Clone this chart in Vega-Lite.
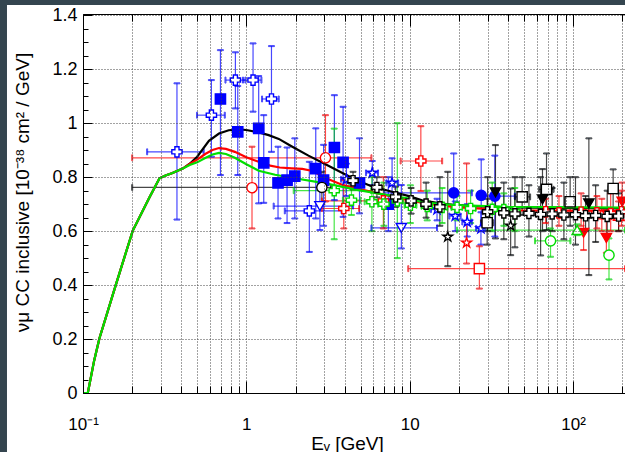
{
  "$schema": "https://vega.github.io/schema/vega-lite/v6.json",
  "width": 542,
  "height": 379,
  "autosize": {"type": "none"},
  "padding": {"left": 83, "top": 14, "right": 0, "bottom": 59},
  "background": "#34454f",
  "config": {"view": {"stroke": null}, "font": "Liberation Sans"},
  "datasets": {
    "pts": [
      {"s":"bsq","E":0.694,"v":1.09,"yl":0.808,"yh":1.271},
      {"s":"bsq","E":0.886,"v":0.968,"yl":0.808,"yh":1.138},
      {"s":"bsq","E":1.19,"v":0.981,"yl":0.703,"yh":1.175},
      {"s":"bsq","E":1.278,"v":0.853,"yl":0.705,"yh":1.03},
      {"s":"bsq","E":1.563,"v":0.779,"yl":0.647,"yh":0.913},
      {"s":"bsq","E":1.775,"v":0.789,"yl":0.63,"yh":0.91},
      {"s":"bsq","E":1.98,"v":0.804,"yl":0.647,"yh":0.944},
      {"s":"bsq","E":2.66,"v":0.832,"yl":0.647,"yh":0.981},
      {"s":"bsq","E":2.97,"v":0.789,"yl":0.62,"yh":0.92},
      {"s":"bsq","E":3.46,"v":0.91,"yl":0.715,"yh":1.104},
      {"s":"bsq","E":3.91,"v":0.855,"yl":0.653,"yh":1.061},
      {"s":"bsq","E":4.93,"v":0.779,"yl":0.666,"yh":0.944},
      {"s":"bsq","E":7.4,"v":0.7,"yl":0.6,"yh":0.8},
      {"s":"bcr","E":0.376,"v":0.894,"xl":0.247,"xh":0.548,"yl":0.643,"yh":1.148},
      {"s":"bcr","E":0.611,"v":1.03,"xl":0.499,"xh":0.738,"yl":0.876,"yh":1.16},
      {"s":"bcr","E":0.857,"v":1.16,"xl":0.745,"xh":0.987,"yl":1.055,"yh":1.263},
      {"s":"bcr","E":1.099,"v":1.16,"xl":0.954,"xh":1.237,"yl":1.043,"yh":1.296},
      {"s":"bcr","E":1.425,"v":1.09,"xl":1.248,"xh":1.578,"yl":0.894,"yh":1.286},
      {"s":"bcr","E":2.43,"v":0.675,"xl":1.72,"xh":3.83,"yl":0.523,"yh":0.857},
      {"s":"bst","E":4.1,"v":0.792,"xl":3.8,"xh":4.4,"yl":0.73,"yh":0.85},
      {"s":"bst","E":5.9,"v":0.816,"xl":5.4,"xh":6.4,"yl":0.77,"yh":0.86},
      {"s":"bst","E":7.8,"v":0.779,"xl":7.2,"xh":8.5,"yl":0.7,"yh":0.87},
      {"s":"bst","E":14.7,"v":0.68,"xl":13.5,"xh":16,"yl":0.64,"yh":0.72},
      {"s":"bst","E":19.0,"v":0.656,"xl":17.5,"xh":20.5,"yl":0.6,"yh":0.71},
      {"s":"bst","E":22.5,"v":0.634,"xl":21,"xh":24,"yl":0.58,"yh":0.7},
      {"s":"bst","E":27.3,"v":0.61,"xl":25.5,"xh":29,"yl":0.55,"yh":0.67},
      {"s":"bci","E":18.6,"v":0.742,"xl":7,"xh":24,"yl":0.685,"yh":0.888},
      {"s":"bci","E":27.4,"v":0.733,"yl":0.6,"yh":0.866},
      {"s":"bci","E":33.2,"v":0.73,"xl":26,"xh":44,"yl":0.58,"yh":0.88},
      {"s":"btd","E":2.82,"v":0.693,"xl":1.47,"xh":4.5,"yl":0.604,"yh":0.78},
      {"s":"btd","E":8.89,"v":0.612,"xl":5.83,"xh":14.7,"yl":0.536,"yh":0.771},
      {"s":"rci","E":1.083,"v":0.761,"yl":0.61,"yh":0.913},
      {"s":"rci","E":3.05,"v":0.872,"xl":0.2,"xh":5.83,"yl":0.71,"yh":1.03},
      {"s":"rcr","E":11.7,"v":0.86,"xl":8.8,"xh":15.8,"yl":0.749,"yh":0.989},
      {"s":"rcr","E":3.95,"v":0.684,"xl":2.9,"xh":4.9,"yl":0.61,"yh":0.79},
      {"s":"rcr","E":6.9,"v":0.712,"xl":2.9,"xh":10,"yl":0.61,"yh":0.8},
      {"s":"rcr","E":68,"v":0.672,"yl":0.63,"yh":0.72},
      {"s":"rcr","E":82,"v":0.668,"yl":0.62,"yh":0.73},
      {"s":"rcr","E":112,"v":0.67,"yl":0.62,"yh":0.74},
      {"s":"rcr","E":140,"v":0.668,"yl":0.61,"yh":0.73},
      {"s":"rcr","E":170,"v":0.665,"yl":0.6,"yh":0.74},
      {"s":"rcr","E":198,"v":0.672,"yl":0.62,"yh":0.75},
      {"s":"rsq","E":26.7,"v":0.461,"xl":9.8,"xh":208,"yl":0.387,"yh":0.544},
      {"s":"rtdf","E":116,"v":0.594,"yl":0.53,"yh":0.683},
      {"s":"rtdf","E":160,"v":0.575,"yl":0.52,"yh":0.68},
      {"s":"rtdf","E":200,"v":0.709,"yl":0.64,"yh":0.78},
      {"s":"rst","E":22.3,"v":0.557,"yl":0.48,"yh":0.851},
      {"s":"rtu","E":150,"v":0.662,"yl":0.6,"yh":0.72},
      {"s":"rtu","E":190,"v":0.657,"yl":0.6,"yh":0.71},
      {"s":"gcr","E":3.45,"v":0.75,"xl":1.95,"xh":5.8,"yl":0.57,"yh":0.98},
      {"s":"gcr","E":4.4,"v":0.715,"xl":3.9,"xh":5.0,"yl":0.66,"yh":0.77},
      {"s":"gcr","E":5.87,"v":0.709,"xl":5.3,"xh":6.4,"yl":0.6,"yh":0.8},
      {"s":"gcr","E":6.95,"v":0.7,"xl":6.4,"xh":7.6,"yl":0.62,"yh":0.78},
      {"s":"gcr","E":8.4,"v":0.712,"xl":7.7,"xh":9.1,"yl":0.5,"yh":1.0},
      {"s":"gcr","E":10.1,"v":0.696,"xl":9.3,"xh":11,"yl":0.63,"yh":0.77},
      {"s":"gcr","E":12.8,"v":0.692,"xl":11.8,"xh":13.8,"yl":0.64,"yh":0.75},
      {"s":"gcr","E":15.8,"v":0.688,"xl":14.6,"xh":17,"yl":0.63,"yh":0.76},
      {"s":"gcr","E":19.5,"v":0.688,"xl":18,"xh":21,"yl":0.64,"yh":0.73},
      {"s":"gcr","E":23.6,"v":0.684,"xl":22,"xh":25.3,"yl":0.63,"yh":0.75},
      {"s":"gcr","E":32,"v":0.681,"xl":30,"xh":34,"yl":0.6,"yh":0.78},
      {"s":"gcr","E":37.7,"v":0.68,"xl":35.5,"xh":40,"yl":0.62,"yh":0.74},
      {"s":"gcr","E":44,"v":0.672,"xl":41.5,"xh":46.5,"yl":0.6,"yh":0.76},
      {"s":"gci","E":72.8,"v":0.564,"xl":58.5,"xh":96.3,"yl":0.505,"yh":0.61},
      {"s":"gci","E":166,"v":0.511,"yl":0.421,"yh":0.573},
      {"s":"gtu","E":106,"v":0.604,"xl":19.5,"xh":208,"yl":0.585,"yh":0.625},
      {"s":"kcr","E":4.5,"v":0.787,"xl":4.2,"xh":4.85,"yl":0.755,"yh":0.82},
      {"s":"kcr","E":6.3,"v":0.762,"xl":5.9,"xh":6.7,"yl":0.725,"yh":0.8},
      {"s":"kcr","E":8.2,"v":0.727,"xl":7.7,"xh":8.8,"yl":0.69,"yh":0.765},
      {"s":"kcr","E":10.2,"v":0.712,"xl":9.6,"xh":10.9,"yl":0.665,"yh":0.76},
      {"s":"kcr","E":12.6,"v":0.7,"xl":11.8,"xh":13.4,"yl":0.65,"yh":0.78},
      {"s":"kcr","E":15.3,"v":0.69,"xl":14.3,"xh":16.3,"yl":0.62,"yh":0.8},
      {"s":"kcr","E":30,"v":0.672,"xl":28,"xh":32,"yl":0.6,"yh":0.8},
      {"s":"kcr","E":37.7,"v":0.668,"xl":35.5,"xh":40,"yl":0.57,"yh":0.78},
      {"s":"kcr","E":44.1,"v":0.664,"xl":41.5,"xh":46.8,"yl":0.54,"yh":0.8},
      {"s":"kcr","E":53.7,"v":0.666,"xl":50.5,"xh":57,"yl":0.58,"yh":0.77},
      {"s":"kcr","E":63.3,"v":0.662,"xl":59.5,"xh":67,"yl":0.51,"yh":0.8},
      {"s":"kcr","E":74.5,"v":0.664,"xl":70,"xh":79,"yl":0.6,"yh":0.76},
      {"s":"kcr","E":87.9,"v":0.66,"xl":83,"xh":93,"yl":0.57,"yh":0.78},
      {"s":"kcr","E":103.5,"v":0.661,"xl":98,"xh":109,"yl":0.55,"yh":0.8},
      {"s":"kcr","E":119.3,"v":0.657,"xl":113,"xh":126,"yl":0.6,"yh":0.73},
      {"s":"kcr","E":137.5,"v":0.658,"xl":130,"xh":145,"yl":0.56,"yh":0.77},
      {"s":"kcr","E":161.8,"v":0.655,"xl":153,"xh":171,"yl":0.58,"yh":0.75},
      {"s":"kcr","E":190,"v":0.656,"xl":180,"xh":200,"yl":0.6,"yh":0.74},
      {"s":"kst","E":17.1,"v":0.579,"yl":0.47,"yh":0.82},
      {"s":"kst","E":41.5,"v":0.62,"yl":0.511,"yh":0.758},
      {"s":"ksq","E":29.8,"v":0.631,"xl":27.3,"xh":32.5,"yl":0.55,"yh":0.72},
      {"s":"ksq","E":48.8,"v":0.727,"xl":44.1,"xh":54.6,"yl":0.66,"yh":0.8},
      {"s":"ksq","E":68.8,"v":0.755,"xl":62,"xh":76,"yl":0.604,"yh":0.888},
      {"s":"ksq","E":96,"v":0.709,"xl":90,"xh":102,"yl":0.62,"yh":0.8},
      {"s":"ksq","E":176,"v":0.758,"xl":165,"xh":188,"yl":0.65,"yh":0.829},
      {"s":"ktdf","E":33.5,"v":0.744,"yl":0.573,"yh":0.919},
      {"s":"ktdf","E":65,"v":0.718,"yl":0.6,"yh":0.83},
      {"s":"ktdf","E":125,"v":0.703,"yl":0.437,"yh":0.944},
      {"s":"kci","E":2.9,"v":0.762,"xl":0.2,"xh":3.3,"yl":0.7,"yh":0.82}
    ],
    "curves": [
      {"m":"black","E":0.1,"v":0},{"m":"black","E":0.107,"v":0},{"m":"black","E":0.117,"v":0.12},{"m":"black","E":0.126,"v":0.202},{"m":"black","E":0.159,"v":0.402},{"m":"black","E":0.2015,"v":0.601},{"m":"black","E":0.255,"v":0.725},{"m":"black","E":0.294,"v":0.796},{"m":"black","E":0.32,"v":0.806},{"m":"black","E":0.35,"v":0.815},{"m":"black","E":0.408,"v":0.832},{"m":"black","E":0.45,"v":0.85},
      {"m":"black","E":0.5,"v":0.876},{"m":"black","E":0.59,"v":0.935},{"m":"black","E":0.68,"v":0.962},{"m":"black","E":0.78,"v":0.974},{"m":"black","E":0.89,"v":0.977},{"m":"black","E":1.0,"v":0.975},{"m":"black","E":1.19,"v":0.966},{"m":"black","E":1.37,"v":0.956},{"m":"black","E":1.58,"v":0.942},{"m":"black","E":1.9,"v":0.914},{"m":"black","E":2.4,"v":0.88},{"m":"black","E":3.05,"v":0.848},{"m":"black","E":3.9,"v":0.815},{"m":"black","E":4.86,"v":0.786},{"m":"black","E":6,"v":0.764},{"m":"black","E":7.8,"v":0.746},{"m":"black","E":9.9,"v":0.73},{"m":"black","E":11.9,"v":0.714},{"m":"black","E":15,"v":0.704},{"m":"black","E":19,"v":0.697},{"m":"black","E":27,"v":0.692},{"m":"black","E":40,"v":0.688},{"m":"black","E":80,"v":0.686},{"m":"black","E":208,"v":0.684},
      {"m":"red","E":0.1,"v":0},{"m":"red","E":0.107,"v":0},{"m":"red","E":0.117,"v":0.12},{"m":"red","E":0.126,"v":0.202},{"m":"red","E":0.159,"v":0.402},{"m":"red","E":0.2015,"v":0.601},{"m":"red","E":0.255,"v":0.725},{"m":"red","E":0.294,"v":0.796},{"m":"red","E":0.32,"v":0.806},{"m":"red","E":0.35,"v":0.815},{"m":"red","E":0.408,"v":0.832},{"m":"red","E":0.45,"v":0.849},
      {"m":"red","E":0.5,"v":0.865},{"m":"red","E":0.56,"v":0.886},{"m":"red","E":0.62,"v":0.901},{"m":"red","E":0.68,"v":0.908},{"m":"red","E":0.75,"v":0.905},{"m":"red","E":0.85,"v":0.894},{"m":"red","E":1.0,"v":0.874},{"m":"red","E":1.19,"v":0.857},{"m":"red","E":1.4,"v":0.843},{"m":"red","E":1.6,"v":0.836},{"m":"red","E":1.9,"v":0.833},{"m":"red","E":2.2,"v":0.831},{"m":"red","E":2.5,"v":0.824},{"m":"red","E":2.8,"v":0.81},{"m":"red","E":3.05,"v":0.797},{"m":"red","E":3.85,"v":0.772},{"m":"red","E":4.86,"v":0.757},{"m":"red","E":6.2,"v":0.742},{"m":"red","E":7.6,"v":0.73},{"m":"red","E":9.9,"v":0.717},{"m":"red","E":11.9,"v":0.705},{"m":"red","E":19,"v":0.689},{"m":"red","E":40,"v":0.678},{"m":"red","E":80,"v":0.676},{"m":"red","E":208,"v":0.675},
      {"m":"green","E":0.1,"v":0},{"m":"green","E":0.107,"v":0},{"m":"green","E":0.117,"v":0.12},{"m":"green","E":0.126,"v":0.202},{"m":"green","E":0.159,"v":0.402},{"m":"green","E":0.2015,"v":0.601},{"m":"green","E":0.255,"v":0.725},{"m":"green","E":0.294,"v":0.796},{"m":"green","E":0.32,"v":0.806},{"m":"green","E":0.35,"v":0.815},{"m":"green","E":0.408,"v":0.832},{"m":"green","E":0.45,"v":0.845},
      {"m":"green","E":0.5,"v":0.855},{"m":"green","E":0.56,"v":0.871},{"m":"green","E":0.62,"v":0.884},{"m":"green","E":0.68,"v":0.89},{"m":"green","E":0.75,"v":0.886},{"m":"green","E":0.85,"v":0.872},{"m":"green","E":1.0,"v":0.848},{"m":"green","E":1.19,"v":0.824},{"m":"green","E":1.5,"v":0.809},{"m":"green","E":1.9,"v":0.798},{"m":"green","E":3.05,"v":0.777},{"m":"green","E":4.86,"v":0.752},{"m":"green","E":7.8,"v":0.731},{"m":"green","E":9.9,"v":0.721},{"m":"green","E":11.9,"v":0.707},{"m":"green","E":19,"v":0.697},{"m":"green","E":40,"v":0.69},{"m":"green","E":208,"v":0.687}
    ]
  },
  "resolve": {"axis": {"x": "independent", "y": "independent"}},
  "layer": [
    {
      "data": {"values": [{}]},
      "mark": {"type": "rect", "color": "white"},
      "encoding": {
        "x": {"datum": 0.03425, "type": "quantitative", "scale": {"type": "log", "domain": [0.1, 208], "nice": false}, "axis": null},
        "x2": {"datum": 100000},
        "y": {"datum": 1.4384, "type": "quantitative", "scale": {"domain": [0, 1.405], "nice": false, "zero": false}, "axis": null},
        "y2": {"datum": -1}
      }
    },
    {
      "data": {"name": "pts"},
      "transform": [{"filter": "datum.xl != null"}],
      "mark": {"type": "rule", "strokeWidth": 1.2, "opacity": 0.72},
      "encoding": {
        "x": {"field": "xl", "type": "quantitative", "scale": {"type": "log", "domain": [0.1, 208], "nice": false}, "axis": null},
        "x2": {"field": "xh"},
        "y": {"field": "v", "type": "quantitative", "scale": {"domain": [0, 1.405], "nice": false, "zero": false}, "axis": null},
        "stroke": {"field": "s", "type": "nominal", "legend": null,
          "scale": {"domain": ["bsq","bcr","bst","bci","btd","rci","rcr","rsq","rtdf","rst","rtu","gcr","gci","gtu","kcr","kst","ksq","ktdf","kci"],
                    "range": ["#0000ff","#0000ff","#0000ff","#0000ff","#0000ff","#ff0000","#ff0000","#ff0000","#ff0000","#ff0000","#ff0000","#00dd00","#00dd00","#00dd00","#000000","#000000","#000000","#000000","#000000"]}}
      }
    },
    {
      "data": {"name": "pts"},
      "transform": [{"filter": "datum.yl != null"}],
      "mark": {"type": "rule", "strokeWidth": 1.2, "opacity": 0.72},
      "encoding": {
        "x": {"field": "E", "type": "quantitative", "scale": {"type": "log", "domain": [0.1, 208], "nice": false}, "axis": null},
        "y": {"field": "yl", "type": "quantitative", "scale": {"domain": [0, 1.405], "nice": false, "zero": false}, "axis": null},
        "y2": {"field": "yh"},
        "stroke": {"field": "s", "type": "nominal", "legend": null,
          "scale": {"domain": ["bsq","bcr","bst","bci","btd","rci","rcr","rsq","rtdf","rst","rtu","gcr","gci","gtu","kcr","kst","ksq","ktdf","kci"],
                    "range": ["#0000ff","#0000ff","#0000ff","#0000ff","#0000ff","#ff0000","#ff0000","#ff0000","#ff0000","#ff0000","#ff0000","#00dd00","#00dd00","#00dd00","#000000","#000000","#000000","#000000","#000000"]}}
      }
    },
    {
      "data": {"name": "pts"},
      "transform": [{"filter": "datum.yl != null"}, {"fold": ["yl", "yh"], "as": ["k", "yy"]}],
      "mark": {"type": "tick", "orient": "horizontal", "size": 6, "thickness": 1, "opacity": 0.72},
      "encoding": {
        "x": {"field": "E", "type": "quantitative", "scale": {"type": "log", "domain": [0.1, 208], "nice": false}, "axis": null},
        "y": {"field": "yy", "type": "quantitative", "scale": {"domain": [0, 1.405], "nice": false, "zero": false}, "axis": null},
        "stroke": {"field": "s", "type": "nominal", "legend": null,
          "scale": {"domain": ["bsq","bcr","bst","bci","btd","rci","rcr","rsq","rtdf","rst","rtu","gcr","gci","gtu","kcr","kst","ksq","ktdf","kci"],
                    "range": ["#0000ff","#0000ff","#0000ff","#0000ff","#0000ff","#ff0000","#ff0000","#ff0000","#ff0000","#ff0000","#ff0000","#00dd00","#00dd00","#00dd00","#000000","#000000","#000000","#000000","#000000"]}}
      }
    },
    {
      "data": {"name": "pts"},
      "transform": [{"filter": "datum.xl != null"}, {"fold": ["xl", "xh"], "as": ["k", "xx"]}],
      "mark": {"type": "tick", "orient": "vertical", "size": 6, "thickness": 1, "opacity": 0.72},
      "encoding": {
        "x": {"field": "xx", "type": "quantitative", "scale": {"type": "log", "domain": [0.1, 208], "nice": false}, "axis": null},
        "y": {"field": "v", "type": "quantitative", "scale": {"domain": [0, 1.405], "nice": false, "zero": false}, "axis": null},
        "stroke": {"field": "s", "type": "nominal", "legend": null,
          "scale": {"domain": ["bsq","bcr","bst","bci","btd","rci","rcr","rsq","rtdf","rst","rtu","gcr","gci","gtu","kcr","kst","ksq","ktdf","kci"],
                    "range": ["#0000ff","#0000ff","#0000ff","#0000ff","#0000ff","#ff0000","#ff0000","#ff0000","#ff0000","#ff0000","#ff0000","#00dd00","#00dd00","#00dd00","#000000","#000000","#000000","#000000","#000000"]}}
      }
    },
    {
      "data": {"name": "curves"},
      "mark": {"type": "line", "strokeWidth": 2.2},
      "encoding": {
        "x": {"field": "E", "type": "quantitative", "scale": {"type": "log", "domain": [0.1, 208], "nice": false},
          "axis": {
            "orient": "top", "zindex": 1,
            "values": [0.1,0.2,0.3,0.4,0.5,0.6,0.7,0.8,0.9,1,2,3,4,5,6,7,8,9,10,20,30,40,50,60,70,80,90,100,200],
            "labels": false, "grid": false, "title": null,
            "tickSize": {"condition": {"test": "datum.value==0.1||datum.value==1||datum.value==10||datum.value==100", "value": -12}, "value": -7},
            "tickColor": "black", "domainColor": "black", "domainWidth": 1
          }
        },
        "y": {"field": "v", "type": "quantitative", "scale": {"domain": [0, 1.405], "nice": false, "zero": false}, "axis": null},
        "color": {"field": "m", "type": "nominal", "legend": null,
          "scale": {"domain": ["black", "red", "green"], "range": ["#000000", "#ff0000", "#00e000"]}}
      }
    },
    {
      "data": {"name": "pts"},
      "mark": {"type": "point", "filled": true, "opacity": 1, "size": 105, "strokeWidth": 1.4},
      "encoding": {
        "x": {"field": "E", "type": "quantitative", "scale": {"type": "log", "domain": [0.1, 208], "nice": false},
          "axis": {
            "orient": "bottom", "zindex": 1,
            "values": [0.1,0.2,0.3,0.4,0.5,0.6,0.7,0.8,0.9,1,2,3,4,5,6,7,8,9,10,20,30,40,50,60,70,80,90,100,200],
            "labelExpr": "datum.value==0.1?'10⁻¹':datum.value==1?'1':datum.value==10?'10':datum.value==100?'10²':''",
            "labelOverlap": false, "labelFlush": false, "labelBound": false,
            "labelFontSize": 17, "labelColor": "black", "labelPadding": 35,
            "tickSize": {"condition": {"test": "datum.value==0.1||datum.value==1||datum.value==10||datum.value==100", "value": -12}, "value": -7},
            "tickColor": "black", "domainColor": "black", "domainWidth": 1,
            "grid": true, "gridColor": "#444", "gridDash": [1, 2], "gridWidth": 1,
            "title": "Eᵥ [GeV]", "titleFontSize": 19, "titleFontWeight": "normal", "titleColor": "black",
            "titleX": 264, "titleY": 56, "titleBaseline": "alphabetic", "titleAlign": "center"
          }
        },
        "y": {"field": "v", "type": "quantitative", "scale": {"domain": [0, 1.405], "nice": false, "zero": false},
          "axis": {
            "orient": "left", "zindex": 1,
            "values": [0,0.05,0.1,0.15,0.2,0.25,0.3,0.35,0.4,0.45,0.5,0.55,0.6,0.65,0.7,0.75,0.8,0.85,0.9,0.95,1,1.05,1.1,1.15,1.2,1.25,1.3,1.35,1.4],
            "labelExpr": "abs(datum.value*5-round(datum.value*5))<0.001 ? format(datum.value, '~g') : ''",
            "labelOverlap": false, "labelFlush": false, "labelBound": false,
            "labelFontSize": 18, "labelColor": "black", "labelPadding": 15,
            "tickSize": {"condition": {"test": "abs(datum.value*5-round(datum.value*5))<0.001", "value": -9}, "value": -5},
            "tickColor": "black", "domainColor": "black", "domainWidth": 1,
            "grid": true, "gridColor": "#444", "gridDash": [1, 2], "gridWidth": 1,
            "gridOpacity": {"condition": {"test": "abs(datum.value*5-round(datum.value*5))<0.001 && datum.value>0", "value": 1}, "value": 0},
            "title": "νμ CC inclusive [10⁻³⁸ cm² / GeV]", "titleFontSize": 19, "titleFontWeight": "normal", "titleColor": "black",
            "titleX": -61, "titleY": 178, "titleBaseline": "middle", "titleAlign": "center"
          }
        },
        "stroke": {"field": "s", "type": "nominal", "legend": null,
          "scale": {"domain": ["bsq","bcr","bst","bci","btd","rci","rcr","rsq","rtdf","rst","rtu","gcr","gci","gtu","kcr","kst","ksq","ktdf","kci"],
                    "range": ["#0000ff","#0000ff","#0000ff","#0000ff","#0000ff","#ff0000","#ff0000","#ff0000","#ff0000","#ff0000","#ff0000","#00dd00","#00dd00","#00dd00","#000000","#000000","#000000","#000000","#000000"]}},
        "fill": {"field": "s", "type": "nominal", "legend": null,
          "scale": {"domain": ["bsq","bcr","bst","bci","btd","rci","rcr","rsq","rtdf","rst","rtu","gcr","gci","gtu","kcr","kst","ksq","ktdf","kci"],
                    "range": ["#0000ff","#ffffff","#ffffff","#0000ff","#ffffff","#ffffff","#ffffff","#ffffff","#ff0000","#ffffff","#ffffff","#ffffff","#ffffff","#ffffff","#ffffff","#ffffff","#ffffff","#000000","#ffffff"]}},
        "shape": {"field": "s", "type": "nominal", "legend": null,
          "scale": {"domain": ["bsq","bcr","bst","bci","btd","rci","rcr","rsq","rtdf","rst","rtu","gcr","gci","gtu","kcr","kst","ksq","ktdf","kci"],
                    "range": ["square","cross","M0,-1L0.2245,-0.309L0.951,-0.309L0.363,0.118L0.588,0.809L0,0.382L-0.588,0.809L-0.363,0.118L-0.951,-0.309L-0.2245,-0.309Z","circle","triangle-down","circle","cross","square","triangle-down","M0,-1L0.2245,-0.309L0.951,-0.309L0.363,0.118L0.588,0.809L0,0.382L-0.588,0.809L-0.363,0.118L-0.951,-0.309L-0.2245,-0.309Z","triangle-up","cross","circle","triangle-up","cross","M0,-1L0.2245,-0.309L0.951,-0.309L0.363,0.118L0.588,0.809L0,0.382L-0.588,0.809L-0.363,0.118L-0.951,-0.309L-0.2245,-0.309Z","square","triangle-down","circle"]}}
      }
    }
  ]
}
